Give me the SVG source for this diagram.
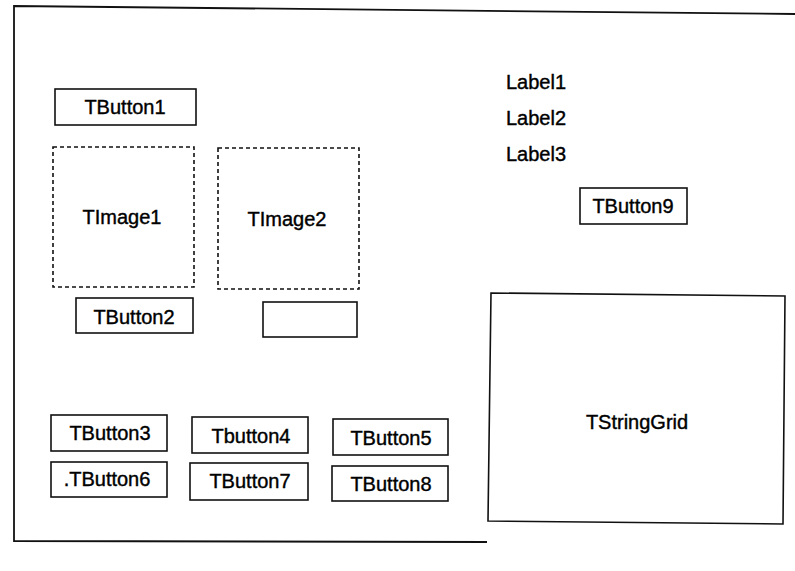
<svg xmlns="http://www.w3.org/2000/svg" width="795" height="571" viewBox="0 0 795 571">
<style>
.box{fill:none;stroke:#111;stroke-width:1.6}
.img{fill:none;stroke:#111;stroke-width:1.6;stroke-dasharray:4 3}
.frame{fill:none;stroke:#111;stroke-width:1.8}
text{font-family:"Liberation Sans",Arial,sans-serif;font-size:20px;fill:#000;stroke:#000;stroke-width:0.4}
.c{text-anchor:middle}
</style>
<rect width="795" height="571" fill="#fff"/>
<g id="frame">
<polyline class="frame" points="795,14 14,6 14,541 487,542"/>
</g>
<g id="TButton1"><rect class="box" x="55" y="89" width="141" height="36"/><text class="c" x="125" y="114">TButton1</text></g>
<g id="TImage1"><rect class="img" x="53" y="147" width="141" height="140"/><text class="c" x="122" y="224">TImage1</text></g>
<g id="TImage2"><rect class="img" x="218" y="148" width="141" height="141"/><text class="c" x="287" y="226">TImage2</text></g>
<g id="TButton2"><rect class="box" x="76" y="298" width="117" height="35"/><text class="c" x="134" y="324">TButton2</text></g>
<g id="Blank"><rect class="box" x="263" y="302" width="94" height="35"/></g>
<g id="TButton3"><rect class="box" x="51" y="415" width="116" height="36"/><text class="c" x="110" y="440">TButton3</text></g>
<g id="Tbutton4"><rect class="box" x="192" y="417" width="116" height="36"/><text class="c" x="251" y="443">Tbutton4</text></g>
<g id="TButton5"><rect class="box" x="333" y="419" width="115" height="36"/><text class="c" x="391" y="445">TButton5</text></g>
<g id="TButton6"><rect class="box" x="51" y="462" width="116" height="35"/><text class="c" x="107" y="486">.TButton6</text></g>
<g id="TButton7"><rect class="box" x="190" y="463" width="118" height="37"/><text class="c" x="250" y="488">TButton7</text></g>
<g id="TButton8"><rect class="box" x="332" y="466" width="116" height="35"/><text class="c" x="391" y="491">TButton8</text></g>
<g id="Label1"><text x="506" y="89">Label1</text></g>
<g id="Label2"><text x="506" y="125">Label2</text></g>
<g id="Label3"><text x="506" y="161">Label3</text></g>
<g id="TButton9"><rect class="box" x="580" y="188" width="107" height="36"/><text class="c" x="633" y="213">TButton9</text></g>
<g id="TStringGrid"><polygon class="box" points="491,293 785,296 783,524 488,521"/><text class="c" x="637" y="429">TStringGrid</text></g>
<g id="connectors"></g>
</svg>
